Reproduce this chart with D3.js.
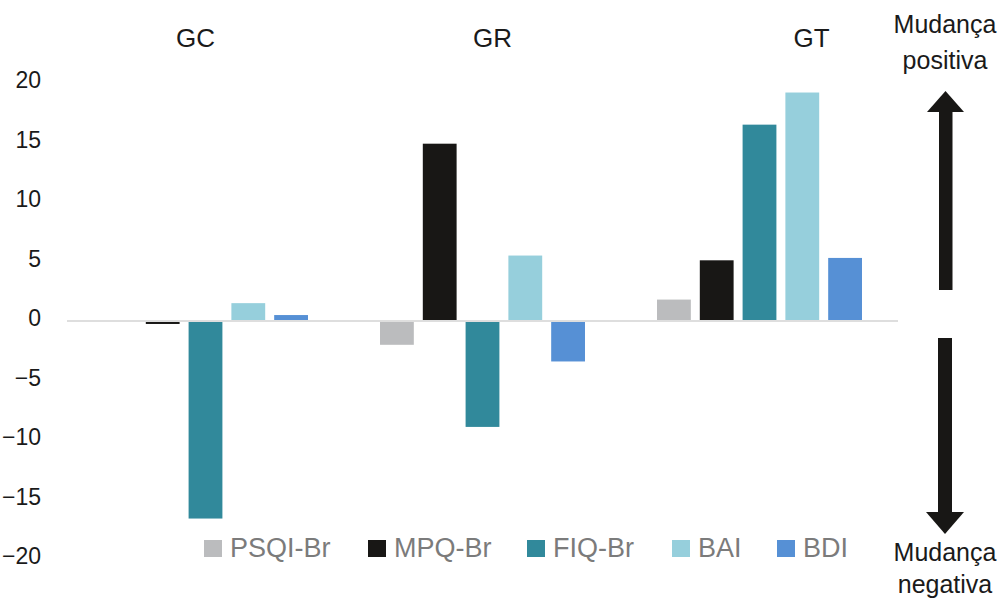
<!DOCTYPE html>
<html>
<head>
<meta charset="utf-8">
<script src="https://cdn.jsdelivr.net/npm/d3@7"></script>
<style>
  body { margin: 0; background: #fff; }
  svg text { font-family: "Liberation Sans", Arial, Helvetica, sans-serif; }
</style>
</head>
<body>
<div id="chart"></div>
<script>
// groups and series
const groups = ['GC', 'GR', 'GT'];
const series = ['PSQI-Br', 'MPQ-Br', 'FIQ-Br', 'BAI', 'BDI'];
const psqi = [0, -2.0, 1.8];
const mpq = [-0.25, 14.9, 5.1];
const fiq = [-16.6, -8.9, 16.5];
const bai = [1.5, 5.5, 19.2];
const bdi = [0.5, -3.4, 5.3];
const yTicks = [20, 15, 10, 5, 0, -5, -10, -15, -20];
const colors = ['#bbbcbe', '#181715', '#31899b', '#96cfdc', '#5690d5'];

const values = [psqi, mpq, fiq, bai, bdi];

const w = 1003, h = 601;

let svg = d3.select('#chart')
  .append('svg')
    .attr('width', w)
    .attr('height', h);

/* scales */
let x0 = d3.scaleBand()
  .domain(groups)
  .range([67, 898])
  .paddingInner(0.26)
  .paddingOuter(0.13);

let x1 = d3.scaleBand()
  .domain(series)
  .range([0, x0.bandwidth()])
  .paddingInner(0.21)
  .paddingOuter(0);

let yScale = d3.scaleLinear()
  .domain([-20, 20])
  .range([559, 83]);

/* y axis, labels only */
let yAxis = d3.axisLeft(yScale)
  .tickValues(yTicks)
  .tickSize(0)
  .tickPadding(0)
  .tickFormat(d3.format('d'));

let yAxisCont = svg.append('g')
  .attr('transform', 'translate(41, -2.5)')
  .call(yAxis);
yAxisCont.select('.domain').remove();
yAxisCont.selectAll('text')
  .style('font-size', '23px')
  .style('fill', '#1a1a1a')
  .style('font-family', '"Liberation Sans", Arial, sans-serif');

/* bars */
let rows = [];
groups.forEach((g, gi) => {
  series.forEach((s, si) => {
    rows.push({group: g, key: s, value: values[si][gi], color: colors[si]});
  });
});

svg.append('g').attr('id', 'bars')
  .selectAll('rect')
  .data(rows)
  .enter()
  .append('rect')
    .attr('x', d => x0(d.group) + x1(d.key))
    .attr('width', x1.bandwidth())
    .attr('y', d => yScale(Math.max(0, d.value)))
    .attr('height', d => Math.abs(yScale(d.value) - yScale(0)))
    .attr('fill', d => d.color);

// zero line
svg.append('line')
  .attr('x1', x0.range()[0])
  .attr('x2', x0.range()[1])
  .attr('y1', yScale(0))
  .attr('y2', yScale(0))
  .attr('stroke', '#dedede')
  .attr('stroke-width', 2);

/* group labels */
const groupShift = [-10, 10, 52];
svg.append('g').attr('id', 'groupLabels')
  .selectAll('text')
  .data(groups)
  .enter()
  .append('text')
    .attr('x', (d, i) => x0(d) + x0.bandwidth() / 2 + groupShift[i])
    .attr('y', 47)
    .attr('text-anchor', 'middle')
    .style('font-size', '26px')
    .style('fill', '#1a1a1a')
    .text(d => d);

/* legend */
const legendX = [204, 368, 527, 672, 777];
let legend = svg.append('g').attr('id', 'legend')
  .selectAll('g')
  .data(series)
  .enter()
  .append('g')
    .attr('transform', (d, i) => `translate(${legendX[i]}, 540)`);

legend.append('rect')
  .attr('width', 18)
  .attr('height', 17)
  .attr('fill', (d, i) => colors[i]);

legend.append('text')
  .attr('x', 26)
  .attr('y', 17)
  .style('font-size', '27px')
  .style('fill', '#7b7b7b')
  .text(d => d);

/* direction arrows */
let arrows = svg.append('g').attr('id', 'arrows').attr('fill', '#181715');
// up
arrows.append('rect').attr('x', 939).attr('y', 110).attr('width', 13.5).attr('height', 180);
arrows.append('path').attr('d', 'M927,112 L945.5,91 L964,112 Z');
// down
arrows.append('rect').attr('x', 938).attr('y', 338).attr('width', 14).attr('height', 176);
arrows.append('path').attr('d', 'M926,512 L945,534 L964,512 Z');

let note = svg.append('g').attr('id', 'notes')
  .style('font-size', '25px')
  .style('fill', '#1a1a1a')
  .attr('text-anchor', 'middle');
note.append('text').attr('x', 945).attr('y', 33).text('Mudança');
note.append('text').attr('x', 945).attr('y', 69).text('positiva');
note.append('text').attr('x', 945).attr('y', 561).text('Mudança');
note.append('text').attr('x', 945).attr('y', 593).text('negativa');
</script>
</body>
</html>
